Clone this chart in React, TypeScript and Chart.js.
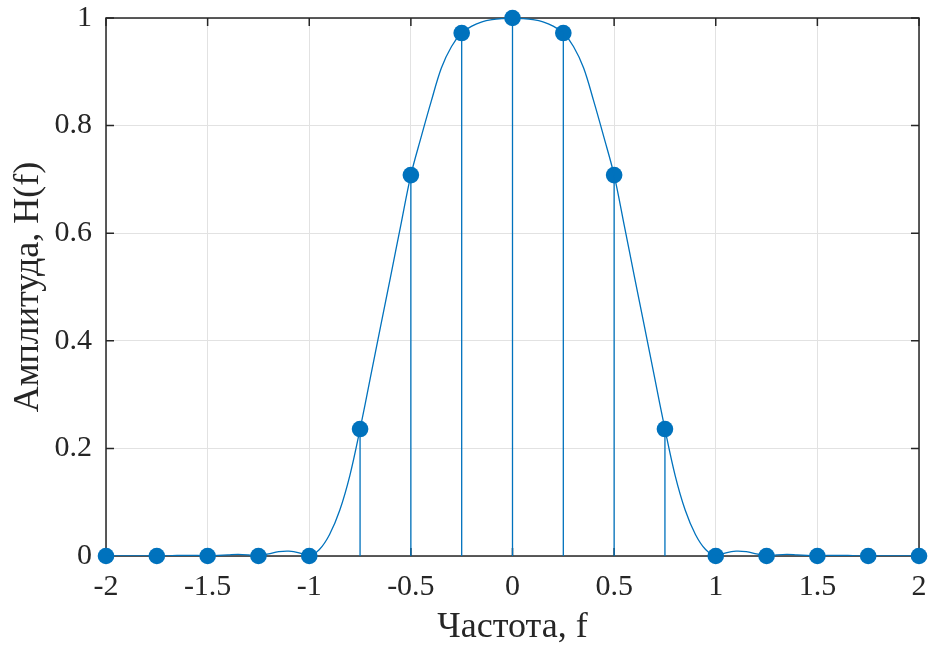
import React, { useEffect, useRef } from "react";
import { Chart, registerables } from "chart.js";

Chart.register(...registerables);

// Sample points (stems + markers)
const sampleFreq = [-2, -1.75, -1.5, -1.25, -1, -0.75, -0.5, -0.25, 0, 0.25, 0.5, 0.75, 1, 1.25, 1.5, 1.75, 2];
const sampleAmp = [0, 0, 0, 0, 0, 0.236, 0.708, 0.972, 1, 0.972, 0.708, 0.236, 0, 0, 0, 0, 0];

// Continuous response curve
const curveFreq = [
  -2, -1.95, -1.9, -1.85, -1.8, -1.75, -1.7, -1.65, -1.6, -1.55, -1.5, -1.45, -1.4, -1.35, -1.3, -1.25,
  -1.2, -1.15, -1.1, -1.05, -1, -0.95, -0.9, -0.85, -0.8, -0.75, -0.7, -0.65, -0.6, -0.55, -0.5, -0.45,
  -0.4, -0.35, -0.3, -0.25, -0.2, -0.15, -0.1, -0.05, 0, 0.05, 0.1, 0.15, 0.2, 0.25, 0.3, 0.35, 0.4,
  0.45, 0.5, 0.55, 0.6, 0.65, 0.7, 0.75, 0.8, 0.85, 0.9, 0.95, 1, 1.05, 1.1, 1.15, 1.2, 1.25, 1.3, 1.35,
  1.4, 1.45, 1.5, 1.55, 1.6, 1.65, 1.7, 1.75, 1.8, 1.85, 1.9, 1.95, 2,
];
const curveAmp = [
  0, 0, 0, 0, 0, 0, 0, 0.001, 0.001, 0.001, 0, 0.001, 0.002, 0.003, 0.002, 0,
  0.004, 0.008, 0.009, 0.006, 0, 0.012, 0.04, 0.085, 0.15, 0.236, 0.33, 0.425, 0.519, 0.614, 0.708, 0.778,
  0.845, 0.907, 0.947, 0.972, 0.985, 0.993, 0.997, 0.999, 1, 0.999, 0.997, 0.993, 0.985, 0.972, 0.947, 0.907, 0.845,
  0.778, 0.708, 0.614, 0.519, 0.425, 0.33, 0.236, 0.15, 0.085, 0.04, 0.012, 0, 0.006, 0.009, 0.008, 0.004, 0, 0.002, 0.003,
  0.002, 0.001, 0, 0.001, 0.001, 0.001, 0, 0, 0, 0, 0, 0, 0,
];

const xTicks = [-2, -1.5, -1, -0.5, 0, 0.5, 1, 1.5, 2];
const yTicks = [0, 0.2, 0.4, 0.6, 0.8, 1];

const xLabel = "Частота, f";
const yLabel = "Амплитуда, H(f)";

const BLUE = "#0072BD";
const AXIS = "#262626";
const GRID = "#e2e2e2";
const FONT = "'Liberation Serif', 'Times New Roman', serif";

const boxPlugin = {
  id: "matlabBox",
  beforeDatasetsDraw(chart: any) {
    const { ctx, chartArea, scales } = chart;
    const { left, right, top, bottom } = chartArea;
    ctx.save();
    ctx.strokeStyle = AXIS;
    ctx.lineWidth = 1.5;
    const tl = 8;
    ctx.beginPath();
    xTicks.forEach((v) => {
      const px = scales.x.getPixelForValue(v);
      ctx.moveTo(px, bottom);
      ctx.lineTo(px, bottom - tl);
      ctx.moveTo(px, top);
      ctx.lineTo(px, top + tl);
    });
    yTicks.forEach((v) => {
      const py = scales.y.getPixelForValue(v);
      ctx.moveTo(left, py);
      ctx.lineTo(left + tl, py);
      ctx.moveTo(right, py);
      ctx.lineTo(right - tl, py);
    });
    ctx.stroke();
    ctx.strokeRect(left, top, right - left, bottom - top);
    ctx.restore();
  },
};

const zeroPad = (s: any) => {
  s.paddingLeft = 0;
  s.paddingRight = 0;
  s.paddingTop = 0;
  s.paddingBottom = 0;
};

export default function App() {
  const ref = useRef<HTMLCanvasElement | null>(null);

  useEffect(() => {
    if (!ref.current) return;
    const curve = curveFreq.map((f, i) => ({ x: f, y: curveAmp[i] }));
    const stems: any[] = [];
    sampleFreq.forEach((f, i) => {
      stems.push({ x: f, y: 0 });
      stems.push({ x: f, y: sampleAmp[i] });
      stems.push({ x: f, y: null });
    });
    const markers = sampleFreq.map((f, i) => ({ x: f, y: sampleAmp[i] }));

    const chart = new Chart(ref.current, {
      type: "scatter",
      data: {
        datasets: [
          {
            type: "line",
            data: curve,
            borderColor: BLUE,
            borderWidth: 1.3,
            pointRadius: 0,
            tension: 0.35,
            fill: false,
          } as any,
          {
            type: "line",
            data: stems,
            borderColor: BLUE,
            borderWidth: 1.3,
            pointRadius: 0,
            spanGaps: false,
            fill: false,
          } as any,
          {
            type: "scatter",
            data: markers,
            backgroundColor: BLUE,
            borderColor: BLUE,
            borderWidth: 0,
            pointRadius: 8.3,
            clip: false,
          } as any,
        ],
      },
      options: {
        responsive: false,
        animation: false,
        events: [],
        layout: { padding: { left: 0, top: 18, right: 10, bottom: 0 } },
        plugins: { legend: { display: false }, tooltip: { enabled: false } },
        scales: {
          x: {
            type: "linear",
            min: -2,
            max: 2,
            afterBuildTicks: (s: any) => {
              s.ticks = xTicks.map((v) => ({ value: v }));
            },
            afterFit: (s: any) => {
              s.height = 92;
              zeroPad(s);
            },
            grid: { color: GRID, lineWidth: 1, drawTicks: false },
            border: { display: false },
            ticks: {
              color: AXIS,
              padding: 13,
              font: { family: FONT, size: 30 },
              callback: (v: any) => String(v),
            },
            title: {
              display: true,
              text: xLabel,
              color: AXIS,
              font: { family: FONT, size: 36 },
              padding: { top: 0, bottom: -1 },
            },
          },
          y: {
            type: "linear",
            min: 0,
            max: 1,
            afterBuildTicks: (s: any) => {
              s.ticks = yTicks.map((v) => ({ value: v }));
            },
            afterFit: (s: any) => {
              s.width = 106;
              zeroPad(s);
            },
            grid: { color: GRID, lineWidth: 1, drawTicks: false },
            border: { display: false },
            ticks: {
              color: AXIS,
              padding: 14,
              font: { family: FONT, size: 30 },
              callback: (v: any) => String(v),
            },
            title: {
              display: true,
              text: yLabel,
              color: AXIS,
              font: { family: FONT, size: 36 },
              padding: { top: 7, bottom: 0 },
            },
          },
        },
      },
      plugins: [boxPlugin],
    });
    return () => chart.destroy();
  }, []);

  return (
    <div style={{ position: "fixed", left: 0, top: 0, width: 929, height: 648, background: "#fff" }}>
      <canvas ref={ref} width={929} height={648} style={{ display: "block" }} />
    </div>
  );
}
